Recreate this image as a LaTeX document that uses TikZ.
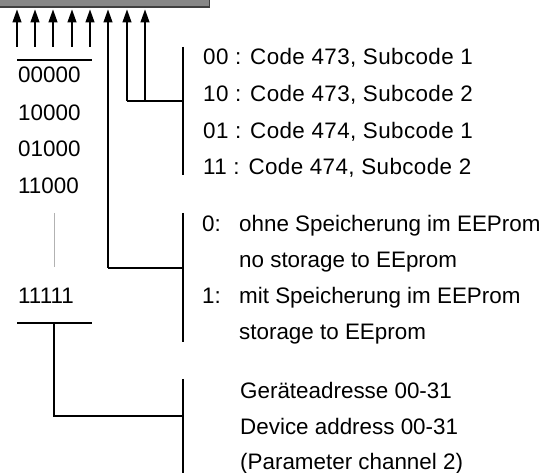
\documentclass[tikz,border=0pt]{standalone}
\usepackage{fontspec}
\setmainfont{Liberation Sans}
\usetikzlibrary{arrows.meta}
\tikzset{
  lbl/.style={anchor=base west,inner sep=0pt,font=\fontsize{22.4}{26}\selectfont},
  codelbl/.style={lbl,font=\fontsize{22.4}{26}\selectfont\addfontfeature{LetterSpace=1.8}},
  arr/.style={line width=2.7pt,-{Triangle[length=13.5pt,width=8.5pt]}},
  wire/.style={line width=2.7pt},
  thin/.style={line width=0.8pt,draw=gray!60},
}
\begin{document}
\begin{tikzpicture}[x=1pt,y=-1pt]
\useasboundingbox (0,0) rectangle (555,473);
% top bar
\node[draw=none,fill=black!47,minimum width=209pt,minimum height=6.5pt,inner sep=0pt,anchor=north west] (bar) at (0,0) {};
\draw[line width=1.6pt,draw=black!75] (bar.south west) -- (bar.south east) -- (bar.north east);
% arrows: tips and bottoms
\foreach \i/\x in {1/17,2/35,3/53,4/72,5/90,6/108,7/127,8/145}{
  \coordinate (t\i) at (\x,9);
}
\foreach \i/\x in {1/17,2/35,3/53,4/72,5/90}{
  \coordinate (b\i) at (\x,47);
  \draw[arr] (b\i) -- (t\i);
}
% bracket coordinates
\coordinate (j6) at (108,268);
\coordinate (j7) at (127,101);
\coordinate (j8) at (145,101);
\coordinate (k1) at (183,101);
\coordinate (k2) at (183,268);
\coordinate (k3) at (183,416);
\coordinate (br1a) at (183,47);
\coordinate (br1b) at (183,175);
\coordinate (br2a) at (183,213);
\coordinate (br2b) at (183,342);
\coordinate (br3a) at (183,379);
\coordinate (br3b) at (183,473);
\draw[arr] (j6) -- (t6);
\draw[arr] (j7) -- (t7);
\draw[arr] (j8) -- (t8);
\draw[wire] (j7) -- (k1);
\draw[wire] (j6) -- (k2);
\draw[wire] (br1a) -- (br1b);
\draw[wire] (br2a) -- (br2b);
\draw[wire] (br3a) -- (br3b);
% left list
\coordinate (ov1) at (17,60);
\coordinate (ov2) at (92,60);
\draw[wire] (ov1) -- (ov2);
\node[lbl] (v1) at (18,83) {00000};
\node[lbl] (v2) at (18,120.5) {10000};
\node[lbl] (v3) at (18,157) {01000};
\node[lbl] (v4) at (18,193.5) {11000};
\coordinate (g1) at (54,213);
\coordinate (g2) at (54,267);
\draw[thin] (g1) -- (g2);
\node[lbl] (v5) at (18,304) {11111};
\coordinate (un1) at (17,323);
\coordinate (un2) at (92,323);
\coordinate (um) at (54,323);
\coordinate (uc) at (54,416);
\draw[wire] (un1) -- (un2);
\draw[wire] (um) -- (uc) -- (k3);
% right texts
\node[codelbl] (c1) at (203,65) {00 : Code 473, Subcode 1};
\node[codelbl] (c2) at (203,102) {10 : Code 473, Subcode 2};
\node[codelbl] (c3) at (203,138.5) {01 : Code 474, Subcode 1};
\node[codelbl] (c4) at (203,175) {11 : Code 474, Subcode 2};
\node[lbl] (s0) at (202,232) {0:};
\node[lbl] (s0a) at (239,232) {ohne Speicherung im EEProm};
\node[lbl] (s0b) at (239,268) {no storage to EEprom};
\node[lbl] (s1) at (202,303.5) {1:};
\node[lbl] (s1a) at (239,303.5) {mit Speicherung im EEProm};
\node[lbl] (s1b) at (239,340) {storage to EEprom};
\node[lbl] (d1) at (240,399) {Geräteadresse 00-31};
\node[lbl] (d2) at (240,435) {Device address 00-31};
\node[lbl] (d3) at (240,469) {(Parameter channel 2)};
\end{tikzpicture}
\end{document}
